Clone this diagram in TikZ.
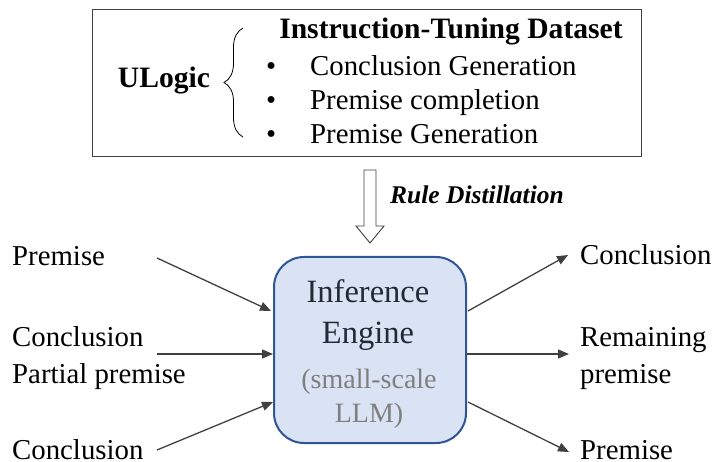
\documentclass[tikz,border=0pt]{standalone}
\usepackage{fontspec}
\setmainfont{Liberation Serif}
\usetikzlibrary{arrows.meta,decorations.pathreplacing}
\definecolor{engfill}{HTML}{DAE3F3}
\definecolor{engdraw}{HTML}{2F5597}
\definecolor{arrgray}{HTML}{404040}
\definecolor{txtgray}{HTML}{7F7F7F}
\definecolor{engtxt}{HTML}{222A35}
\begin{document}
\begin{tikzpicture}[x=1pt,y=-1pt,
  lbl/.style={anchor=base west,inner sep=0pt,font=\fontsize{28.8}{30}\selectfont},
  ctr/.style={anchor=base,inner sep=0pt},
  conn/.style={draw=arrgray,line width=1.3pt,-{Triangle[length=11pt,width=9pt]}},
]
\useasboundingbox (0,0) rectangle (712,462);
% top box
\draw[line width=1pt,draw=black!75] (92,10) rectangle (641,157);
\node[ctr,font=\bfseries\fontsize{29.6}{31}\selectfont] (title) at (451,39) {Instruction-Tuning Dataset};
\node[anchor=base,inner sep=0pt,font=\bfseries\fontsize{29.6}{31}\selectfont] (ulogic) at (164,88) {ULogic};
\draw[line width=0.8pt,decorate,decoration={brace,amplitude=19pt,aspect=0.5}] (243,137) -- (243,28);
\foreach \yy/\tt [count=\i] in {76/Conclusion Generation,110/Premise completion,144/Premise Generation}{
  \node[lbl] (b\i) at (266,\yy) {•};
  \node[lbl] (t\i) at (310,\yy) {\tt};
}
% hollow arrow
\draw[line width=0.9pt,draw=black!75,fill=white] (364,170) -- (376,170) -- (376,226) -- (384,226) -- (370,243) -- (356,226) -- (364,226) -- cycle;
\node[anchor=base west,inner sep=0pt,font=\bfseries\itshape\fontsize{25.5}{27}\selectfont] (rd) at (390,204) {Rule Distillation};
% engine
\node[draw=engdraw,fill=engfill,line width=2pt,rounded corners=30pt,minimum width=192pt,minimum height=186pt] (eng) at (370,350) {};
\node[ctr,font=\fontsize{32.5}{34}\selectfont,text=engtxt] (e1) at (368,303) {Inference};
\node[ctr,font=\fontsize{32.5}{34}\selectfont,text=engtxt] (e2) at (368,343) {Engine};
\node[ctr,font=\fontsize{28}{30}\selectfont,text=txtgray] (e3) at (369,388) {(small-scale};
\node[ctr,font=\fontsize{28}{30}\selectfont,text=txtgray] (e4) at (369,422) {LLM)};
% left labels
\node[lbl] (lp) at (12,266) {Premise};
\node[lbl] (lc) at (12,346) {Conclusion};
\node[lbl] (lpp) at (12,383) {Partial premise};
\node[lbl] (lc2) at (12,459) {Conclusion};
% right labels
\node[lbl] (rc) at (580,265) {Conclusion};
\node[lbl] (rr) at (580,346) {Remaining};
\node[lbl] (rp) at (580,383) {premise};
\node[lbl] (rp2) at (580,459) {Premise};
% coordinates
\coordinate (a1s) at (157,258); \coordinate (a1e) at (271,311);
\coordinate (a2s) at (157,354); \coordinate (a2e) at (273,354);
\coordinate (a3s) at (157,450); \coordinate (a3e) at (273,402);
\coordinate (b1s) at (468,311); \coordinate (b1e) at (568,255);
\coordinate (b2s) at (467,354); \coordinate (b2e) at (569,354);
\coordinate (b3s) at (468,402); \coordinate (b3e) at (569,452);
\draw[conn] (a1s) -- (a1e);
\draw[conn] (a2s) -- (a2e);
\draw[conn] (a3s) -- (a3e);
\draw[conn] (b1s) -- (b1e);
\draw[conn] (b2s) -- (b2e);
\draw[conn] (b3s) -- (b3e);
\end{tikzpicture}
\end{document}
